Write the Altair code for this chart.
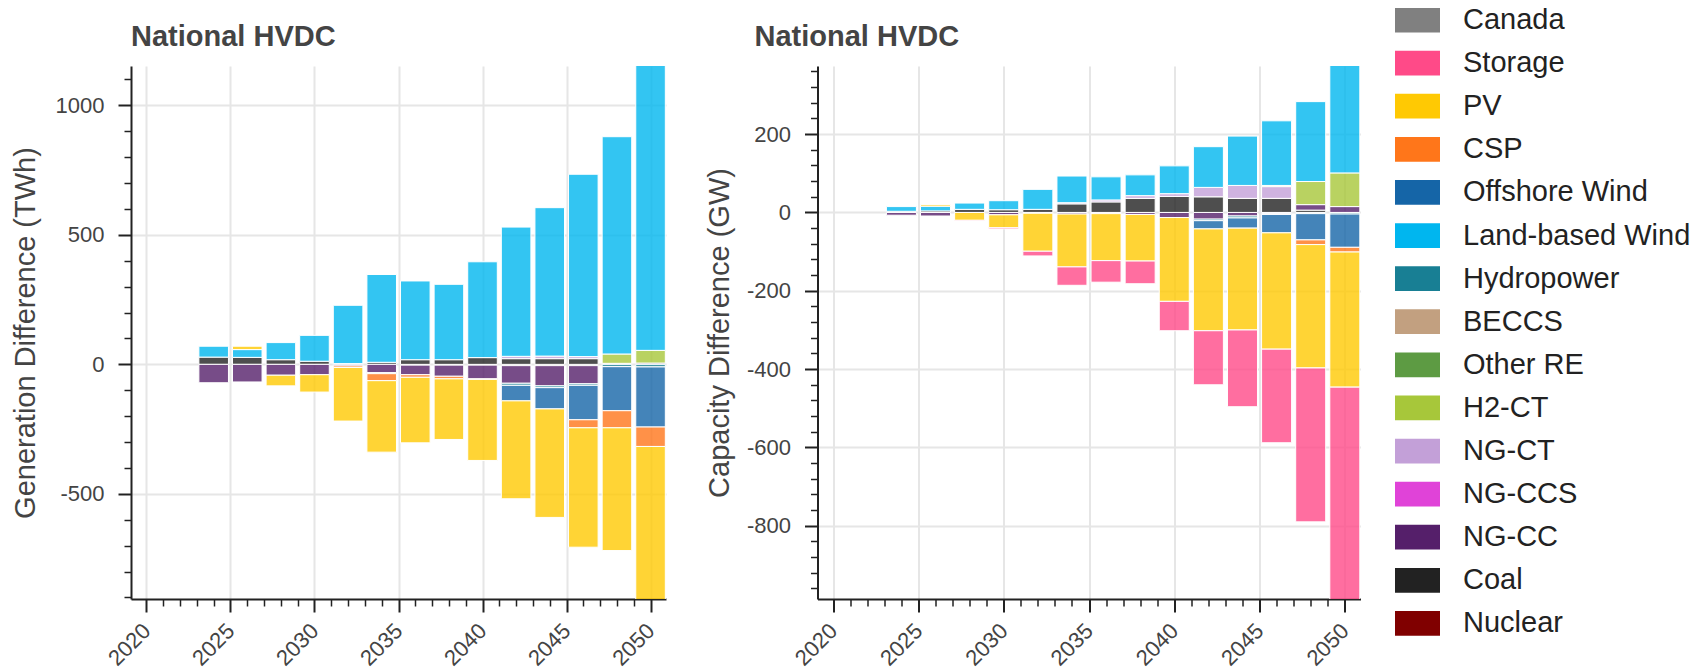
import altair as alt
import pandas as pd

years = [2024, 2026, 2028, 2030, 2032, 2034, 2036, 2038, 2040, 2042, 2044, 2046, 2048, 2050]

techs = ["Canada", "Storage", "PV", "CSP", "Offshore Wind", "Land-based Wind", "Hydropower",
         "BECCS", "Other RE", "H2-CT", "NG-CT", "NG-CCS", "NG-CC", "Coal", "Nuclear"]
colors = ["#808080", "#FF4A88", "#FFC903", "#FF761A", "#1565A7", "#00B6EF", "#187F94",
          "#C2A080", "#5D9B43", "#A7C73A", "#C3A0D8", "#E043D8", "#551F6A", "#222222", "#800000"]

# Generation difference (TWh)
gen_nuclear = [0, 0, 0, 0, 0, 0, -3, -3, -3, -5, -5, -5, 0, 0]
gen_coal = [28, 27, 18, 12, 3, 8, 18, 18, 26, 22, 22, 22, 0, 0]
gen_ngcc = [-71, -68, -42, -40, -6, -32, -37, -43, -53, -68, -78, -70, 4, 5]
gen_ngct = [0, 0, 0, 0, 0, 0, 0, 0, 0, 9, 10, 8, 0, 0]
gen_h2ct = [0, 0, 0, 0, 0, 0, 0, 0, 0, 0, 0, 0, 36, 49]
gen_hydro = [0, 0, 0, 0, 0, -4, 0, 0, 0, -8, -7, -6, -9, -10]
gen_wind = [42, 30, 66, 100, 225, 339, 304, 291, 370, 499, 573, 704, 839, 1110]
gen_offshore = [0, 0, 0, 0, 0, 0, 0, 0, 0, -60, -82, -133, -170, -232]
gen_csp = [0, 0, 0, 0, -6, -27, -10, -10, -2, 0, 0, -31, -66, -75]
gen_pv = [0, 13, -41, -67, -207, -276, -253, -234, -313, -378, -419, -461, -474, -630]

# Capacity difference (GW)
cap_coal = [3, 4, 8, 7, 8, 22, 27, 36, 41, 40, 36, 36, 6, 0]
cap_ngcc = [-7, -9, 0, -6, -2, -4, -3, -5, -13, -17, -9, -3, 14, 15]
cap_ngct = [0, 0, 0, 0, 0, 3, 5, 7, 7, 24, 33, 30, 0, 0]
cap_h2ct = [0, 0, 0, 0, 0, 0, 0, 0, 0, 0, 0, 3, 59, 86]
cap_hydro = [0, 0, 0, 0, 0, 0, 0, 0, 0, -4, -5, -2, -3, -4]
cap_wind = [12, 12, 16, 23, 51, 68, 59, 53, 71, 104, 126, 165, 204, 290]
cap_offshore = [0, 0, 0, 0, 0, 0, 0, 0, 0, -21, -26, -47, -67, -85]
cap_csp = [0, 0, 0, 0, 0, 0, 0, 0, 0, 0, 0, 0, -12, -12]
cap_pv = [0, 4, -20, -33, -97, -135, -120, -119, -214, -260, -260, -297, -315, -345]
cap_storage = [0, 0, -2, -3, -12, -47, -55, -58, -75, -138, -196, -239, -393, -560]

gen_series = {"Nuclear": gen_nuclear, "Coal": gen_coal, "NG-CC": gen_ngcc, "NG-CT": gen_ngct,
              "H2-CT": gen_h2ct, "Hydropower": gen_hydro, "Land-based Wind": gen_wind,
              "Offshore Wind": gen_offshore, "CSP": gen_csp, "PV": gen_pv}
cap_series = {"Coal": cap_coal, "NG-CC": cap_ngcc, "NG-CT": cap_ngct,
              "H2-CT": cap_h2ct, "Hydropower": cap_hydro, "Land-based Wind": cap_wind,
              "Offshore Wind": cap_offshore, "CSP": cap_csp, "PV": cap_pv, "Storage": cap_storage}

stack_order = list(reversed(techs))  # Nuclear closest to zero


def to_frame(series):
    rows = []
    for tech, vals in series.items():
        for y, v in zip(years, vals):
            if v != 0:
                rows.append({"year": y, "tech": tech, "value": v, "ord": stack_order.index(tech)})
    return pd.DataFrame(rows)


FONT = "Liberation Sans"
X_DOMAIN = [2019.08, 2050.92]
HALF = 0.88


def cond(test, a, b):
    return {"condition": {"test": test, "value": a}, "value": b}


def make_axis(values, major, title=None, title_pad=15, is_x=False):
    test = f"datum.value % {major} === 0"
    kw = dict(
        values=values,
        title=title,
        labelExpr=f"{test} ? '' + datum.value : ''",
        tickSize=cond(test, 13, 7),
        tickWidth=cond(test, 2, 1.5),
        gridOpacity=cond(test, 1, 0),
        labelFontSize=cond(test, 22, 0),
        labelOverlap=False,
        labelFlush=False,
        labelPadding=14,
        titlePadding=title_pad,
    )
    if is_x:
        kw.update(labelAngle=-45, labelAlign="right", labelBaseline="middle", labelPadding=15)
    return alt.Axis(**kw)


legend = alt.Legend(
    title=None, orient="none", legendX=1264, legendY=-68.5,
    symbolType="M-1,-0.55H1V0.55H-1Z", symbolSize=2025, symbolStrokeWidth=0,
    symbolOpacity=1, labelFontSize=29, labelFont=FONT, labelColor="#222222",
    labelOffset=23, rowPadding=5.1, labelLimit=0, padding=0,
)


def panel(df, ytitle, ydomain, yvalues, ymajor, title_dx, title_pad, width):
    base = alt.Chart(df).transform_stack(
        stack="value", groupby=["year"], as_=["v0", "v1"],
        sort=[alt.SortField("ord", order="ascending")], offset="zero"
    ).transform_calculate(x0=f"datum.year - {HALF}", x1=f"datum.year + {HALF}")
    return base.mark_bar(clip=True, fillOpacity=0.8, stroke="white", strokeWidth=1).encode(
        x=alt.X("x0:Q", scale=alt.Scale(domain=X_DOMAIN, nice=False, zero=False),
                axis=make_axis(list(range(2020, 2051)), 5, is_x=True)),
        x2="x1:Q",
        y=alt.Y("v0:Q", scale=alt.Scale(domain=ydomain, nice=False, zero=False),
                axis=make_axis(yvalues, ymajor, title=ytitle, title_pad=title_pad)),
        y2="v1:Q",
        color=alt.Color("tech:N", scale=alt.Scale(domain=techs, range=colors), legend=legend),
    ).properties(
        width=width, height=533,
        title=alt.TitleParams("National HVDC", anchor="start", frame="group", fontSize=29,
                              fontWeight="bold", color="#444444", font=FONT,
                              baseline="alphabetic", offset=-9, dx=title_dx),
    )


left = panel(to_frame(gen_series), "Generation Difference (TWh)", [-906, 1152],
             list(range(-900, 1101, 100)), 500, 0, 15, 535)
right = panel(to_frame(cap_series), "Capacity Difference (GW)", [-987, 374],
              list(range(-960, 361, 40)), 200, -63, 12, 543)

chart = alt.hconcat(left, right, spacing=151.5, bounds="flush").resolve_scale(
    color="shared"
).properties(
    padding={"left": 3, "top": -11, "right": 0, "bottom": 0}
).configure_view(stroke=None).configure_axis(
    domainColor="#222222", domainWidth=2, tickColor="#222222",
    gridColor="#e6e6e6", gridWidth=2,
    labelColor="#444444", labelFont=FONT,
    titleFont=FONT, titleFontSize=29, titleFontWeight="normal", titleColor="#444444",
)

chart.save("out.html", embed_options={"renderer": "svg", "actions": False})
